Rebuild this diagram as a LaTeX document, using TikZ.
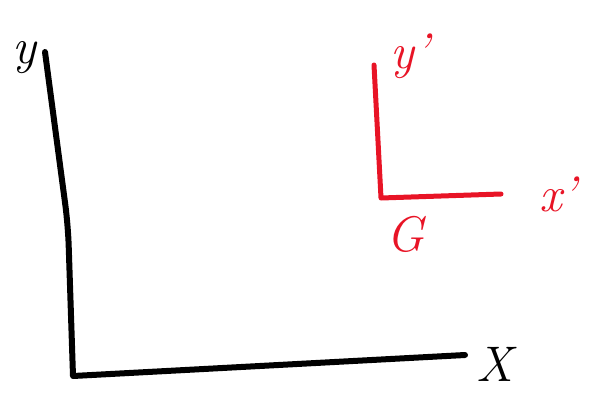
\documentclass[tikz,border=0pt]{standalone}
\usepackage{fontspec}
\definecolor{sketchred}{RGB}{232,20,38}
\begin{document}
\begin{tikzpicture}[
    x=1pt, y=-1pt,
    axis/.style={line width=6pt, line cap=round, line join=round},
    frame/.style={axis, sketchred, line width=5pt},
    lbl/.style={font=\fontsize{50}{50}\selectfont\itshape, inner sep=0pt}
]
\useasboundingbox (0,0) rectangle (602,394);

% Fixed frame
\coordinate (ytop) at (45,52);
\coordinate (bend) at (68,225);
\coordinate (O) at (73,376);
\coordinate (xend) at (465,355);

\node[lbl] (ylbl) at (24,58) {y};
\node[lbl] (xlbl) at (495,364) {X};

\draw[axis, rounded corners=20pt] (ytop) -- (bend) [sharp corners] -- (O) -- (xend);

% Body frame at G
\coordinate (yptop) at (374,65);
\coordinate (G) at (381,198);
\coordinate (xpend) at (501,194);

\node[lbl, sketchred] (yplbl) at (410,56) {y'};
\node[lbl, sketchred] (xplbl) at (558,194) {x'};
\node[lbl, sketchred] (Glbl) at (405,234) {G};

\draw[frame] (yptop) -- (G) -- (xpend);

\end{tikzpicture}
\end{document}
